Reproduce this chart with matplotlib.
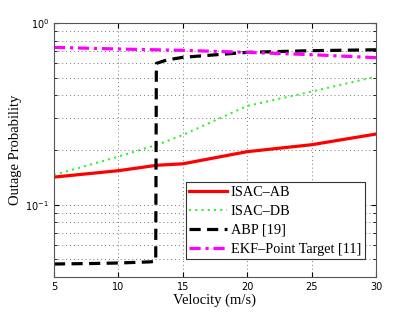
import numpy as np
import matplotlib
matplotlib.use("Agg")
import matplotlib.pyplot as plt
from matplotlib.ticker import LogLocator, NullFormatter

# velocity grid points (m/s)
v_ab = [5, 10, 13, 15, 20, 25, 30]
isac_ab = [0.142, 0.154, 0.165, 0.168, 0.196, 0.214, 0.245]

v_db = [5, 10, 13, 15, 20, 25, 30]
isac_db = [0.146, 0.184, 0.214, 0.242, 0.350, 0.420, 0.507]

v_abp = [5, 8, 10, 12.5, 12.9, 12.95, 13.75, 15, 20, 25, 30]
abp = [0.0472, 0.0475, 0.0478, 0.0485, 0.0490, 0.600, 0.626, 0.648, 0.690, 0.705, 0.713]

v_ekf = [5, 10, 15, 20, 25, 30]
ekf = [0.735, 0.720, 0.708, 0.690, 0.670, 0.645]

plt.rcParams['font.family'] = ['Liberation Serif', 'DejaVu Serif']

fig = plt.figure(figsize=(4.15, 3.12), dpi=100)
ax = fig.add_axes([0.130, 0.112, 0.776, 0.814])

ax.plot(v_ab, isac_ab, color='red', lw=2.3, label='ISAC\u2013AB')
ax.plot(v_db, isac_db, color='#33f033', lw=1.5, ls=(0, (1, 2)), label='ISAC\u2013DB')
ax.plot(v_abp, abp, color='black', lw=2.3, ls=(0, (3.5, 2)), label='ABP [19]')
ax.plot(v_ekf, ekf, color='magenta', lw=2.3, ls=(0, (3.5, 1.5, 1, 1.5)),
        label='EKF\u2013Point Target [11]')

ax.set_yscale('log')
ax.set_xlim(5, 30)
ax.set_ylim(0.04, 1)
ax.set_xticks([5, 10, 15, 20, 25, 30])
ax.yaxis.set_major_locator(LogLocator(base=10))
ax.yaxis.set_minor_locator(LogLocator(base=10, subs=np.arange(2, 10)))
ax.yaxis.set_minor_formatter(NullFormatter())

ax.grid(True, which='major', ls=(0, (1, 3)), color='#777777', lw=0.7)
ax.grid(True, which='minor', axis='y', ls=(0, (1, 3)), color='#777777', lw=0.7)

ax.tick_params(which='both', direction='in', top=True, right=True, labelsize=7)
for lab in ax.get_xticklabels() + ax.get_yticklabels():
    lab.set_family('DejaVu Sans')
for s in ax.spines.values():
    s.set_color('#555555')
    s.set_linewidth(0.8)

ax.set_xlabel('Velocity (m/s)', fontsize=10.5, labelpad=1)
ax.set_ylabel('Outage Probability', fontsize=10.5, labelpad=2)

leg = ax.legend(loc='lower right', bbox_to_anchor=(0.965, 0.07), fontsize=10.3,
                frameon=True, fancybox=False, edgecolor='#333333', framealpha=1,
                borderpad=0.25, labelspacing=0.42, handlelength=2.6,
                handletextpad=0.3, borderaxespad=0)
leg.get_frame().set_linewidth(0.8)

fig.savefig('out.png', dpi=100)
